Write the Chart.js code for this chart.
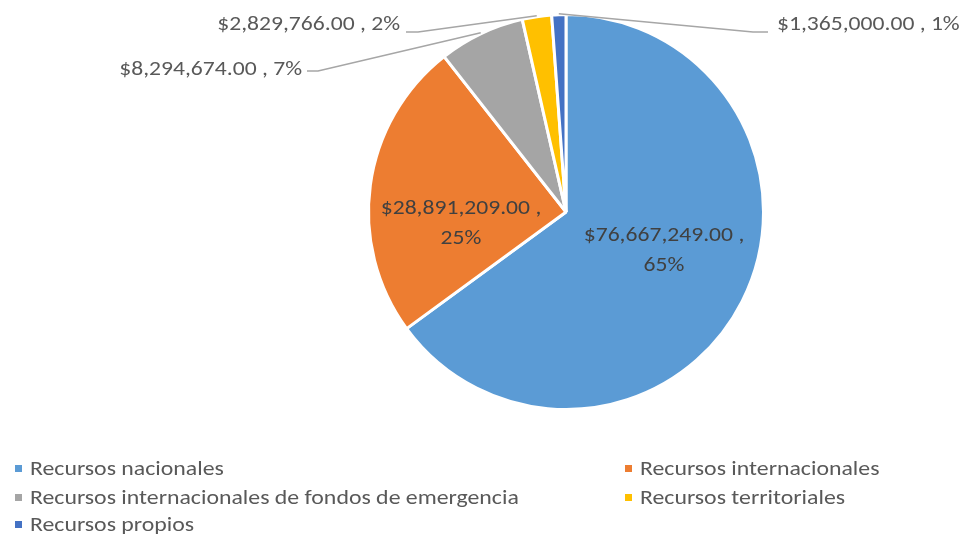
<!DOCTYPE html>
<html>
<head>
<meta charset="utf-8">
<script src="https://cdn.jsdelivr.net/npm/chart.js@4/dist/chart.umd.min.js"></script>
<style>
  html, body { margin: 0; padding: 0; background: #fff; }
  #wrap { position: relative; width: 964px; height: 534px; overflow: hidden; }
  #c { position: absolute; left: 0; top: 0; }
  .lg { position: absolute; font-family: Carlito, Lato, sans-serif; font-size: 20px; color: #595959; white-space: nowrap; line-height: 24px; }
  .lg i { position: absolute; left: 0; top: 9px; width: 7px; height: 7px; }
  .lg span { position: absolute; left: 15px; top: 0; display: inline-block; transform: scaleX(1.19); transform-origin: 0 0; }
</style>
</head>
<body>
<div id="wrap">
  <canvas id="c" width="964" height="534"></canvas>
  <div id="legend"></div>
</div>
<script>
const categories = [
  "Recursos nacionales",
  "Recursos internacionales",
  "Recursos internacionales de fondos de emergencia",
  "Recursos territoriales",
  "Recursos propios"
];
const amounts = [76667249, 28891209, 8294674, 2829766, 1365000];
const percentLabels = ["65%", "25%", "7%", "2%", "1%"];
const colors = ["#5B9BD5", "#ED7D31", "#A5A5A5", "#FFC000", "#4472C4"];

const FONT = "20px Carlito, Lato, sans-serif";
const SX = 1.18;
function fmt(v) {
  return "$" + v.toLocaleString("en-US", { minimumFractionDigits: 2, maximumFractionDigits: 2 });
}

// label layout (style/placement only)
const labelLayout = [
  { type: "inside", x: 664, y: 236 },
  { type: "inside", x: 461, y: 209 },
  { type: "left", tx: 302, ty: 70, lx: 307, ly: 71, elbow: 318 },
  { type: "left", tx: 400, ty: 25, lx: 406, ly: 32, elbow: 418 },
  { type: "right", tx: 777, ty: 25, lx: 768, ly: 32, elbow: 753 }
];

function drawText(ctx, s, x, y, align) {
  ctx.save();
  ctx.translate(x, y);
  ctx.scale(SX, 1);
  ctx.textAlign = align;
  ctx.fillText(s, 0, 0);
  ctx.restore();
}

const labelPlugin = {
  id: "pieLabels",
  afterDatasetsDraw(chart) {
    const ctx = chart.ctx;
    const meta = chart.getDatasetMeta(0);
    ctx.save();
    ctx.font = FONT;
    ctx.textBaseline = "middle";
    meta.data.forEach((arc, i) => {
      const L = labelLayout[i];
      const v = amounts[i];
      if (L.type === "inside") {
        ctx.fillStyle = "#404040";
        drawText(ctx, fmt(v) + " ,", L.x, L.y, "center");
        drawText(ctx, percentLabels[i], L.x, L.y + 30, "center");
      } else {
        const p = arc.getProps(["x", "y", "startAngle", "endAngle", "outerRadius"], true);
        const mid = (p.startAngle + p.endAngle) / 2;
        const ex = p.x + Math.cos(mid) * (p.outerRadius + 1);
        const ey = p.y + Math.sin(mid) * (p.outerRadius + 1);
        ctx.strokeStyle = "#A6A6A6";
        ctx.lineWidth = 1.5;
        ctx.beginPath();
        ctx.moveTo(L.lx, L.ly);
        ctx.lineTo(L.elbow, L.ly);
        ctx.lineTo(ex, ey);
        ctx.stroke();
        ctx.fillStyle = "#595959";
        drawText(ctx, fmt(v) + " , " + percentLabels[i], L.tx, L.ty, L.type === "left" ? "right" : "left");
      }
    });
    ctx.restore();
  }
};

new Chart(document.getElementById("c"), {
  type: "pie",
  data: {
    labels: categories,
    datasets: [{
      data: amounts,
      backgroundColor: colors,
      borderColor: "#FFFFFF",
      borderWidth: 3
    }]
  },
  options: {
    responsive: false,
    animation: false,
    layout: { padding: { left: 367, right: 199, top: 12, bottom: 122 } },
    plugins: { legend: { display: false }, tooltip: { enabled: false } }
  },
  plugins: [labelPlugin]
});

// legend
const legendPos = [
  { x: 15, y: 456 }, { x: 625, y: 456 },
  { x: 15, y: 485 }, { x: 625, y: 485 },
  { x: 15, y: 512 }
];
const lg = document.getElementById("legend");
categories.forEach((c, i) => {
  const d = document.createElement("div");
  d.className = "lg";
  d.style.left = legendPos[i].x + "px";
  d.style.top = legendPos[i].y + "px";
  d.innerHTML = '<i style="background:' + colors[i] + '"></i>';
  const s = document.createElement("span");
  s.textContent = c;
  d.appendChild(s);
  lg.appendChild(d);
});
</script>
</body>
</html>
